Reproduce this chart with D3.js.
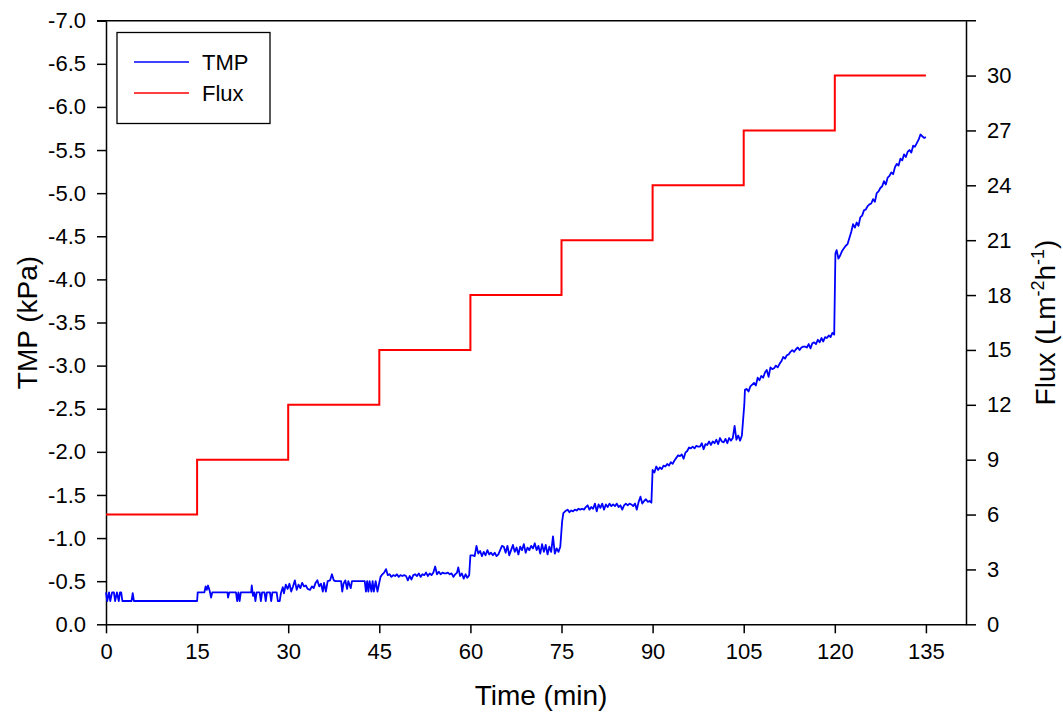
<!DOCTYPE html>
<html>
<head>
<meta charset="utf-8">
<script src="https://cdn.jsdelivr.net/npm/d3@7"></script>
<style>
  html, body { margin: 0; padding: 0; background: #fff; }
  svg { display: block; font-family: "Liberation Sans", Arial, sans-serif; }
</style>
</head>
<body>
<svg id="chart" width="1063" height="713"></svg>
<script>
// Tick values for the three axes
const timeTicks = [0, 15, 30, 45, 60, 75, 90, 105, 120, 135];
const tmpTicks = [0, -0.5, -1, -1.5, -2, -2.5, -3, -3.5, -4, -4.5, -5, -5.5, -6, -6.5, -7];
const fluxTicks = [0, 3, 6, 9, 12, 15, 18, 21, 24, 27, 30];

// Flux set-point steps: start time of each step and its flux (L m-2 h-1)
const fluxStepStart = [0, 15, 30, 45, 60, 75, 90, 105, 120, 135];
const fluxStepValue = [6, 9, 12, 15, 18, 21, 24, 27, 30, 30];

// Transmembrane pressure readings: [time (min), TMP (kPa)]
const tmpReadings = [
  // 6 L m-2 h-1
  [0.0,-0.37],[0.2,-0.27],[0.5,-0.37],[0.7,-0.27],[1.0,-0.37],[1.3,-0.37],[1.5,-0.27],[1.8,-0.37],
  [2.1,-0.27],[2.3,-0.37],[2.5,-0.37],[2.7,-0.27],[4.2,-0.27],[4.4,-0.36],[4.6,-0.27],[15.0,-0.27],
  // 9 L m-2 h-1
  [15.1,-0.37],[16.2,-0.37],[16.4,-0.44],[16.6,-0.40],[16.8,-0.45],[17.1,-0.38],[17.3,-0.31],[17.5,-0.37],
  [20.0,-0.37],[20.1,-0.31],[20.3,-0.37],[21.4,-0.37],[21.6,-0.27],[21.8,-0.37],[22.0,-0.27],[22.2,-0.37],
  [23.9,-0.37],[24.0,-0.45],[24.2,-0.33],[24.4,-0.37],[24.6,-0.27],[24.8,-0.37],[25.3,-0.37],[25.5,-0.27],
  [25.7,-0.37],[26.1,-0.37],[26.3,-0.27],[26.5,-0.37],[27.0,-0.37],[27.2,-0.27],[27.4,-0.37],[28.1,-0.37],
  [28.3,-0.27],[28.6,-0.27],[28.8,-0.36],[29.1,-0.43],[29.3,-0.36],[29.6,-0.46],[29.9,-0.41],
  // 12 L m-2 h-1
  [30.2,-0.47],[30.5,-0.38],[30.8,-0.44],[31.1,-0.51],[31.4,-0.40],[31.7,-0.46],[32.0,-0.42],[32.3,-0.48],
  [32.6,-0.44],[32.9,-0.45],[33.2,-0.41],[33.6,-0.40],[33.9,-0.44],[34.2,-0.42],[34.5,-0.48],[34.8,-0.51],
  [35.1,-0.44],[35.4,-0.47],[35.7,-0.38],[35.9,-0.48],[36.2,-0.38],[36.5,-0.50],[36.9,-0.51],[37.2,-0.58],
  [37.5,-0.51],[37.8,-0.50],[38.4,-0.50],[38.7,-0.50],[38.9,-0.38],[39.1,-0.47],[39.4,-0.51],[39.7,-0.41],
  [39.9,-0.50],[40.3,-0.42],[40.5,-0.50],[41.0,-0.50],[41.5,-0.50],[42.0,-0.50],[42.6,-0.50],[42.8,-0.38],
  [43.0,-0.50],[43.2,-0.38],[43.4,-0.50],[43.7,-0.38],[43.9,-0.50],[44.1,-0.38],[44.4,-0.50],[44.7,-0.38],
  [44.9,-0.45],
  // 15 L m-2 h-1
  [45.2,-0.55],[45.5,-0.58],[45.8,-0.60],[46.1,-0.64],[46.4,-0.57],[46.7,-0.58],[47.0,-0.55],[47.3,-0.57],
  [47.6,-0.56],[47.9,-0.58],[48.2,-0.55],[48.5,-0.57],[48.8,-0.56],[49.1,-0.57],[49.4,-0.56],[49.7,-0.51],
  [50.0,-0.56],[50.3,-0.52],[50.6,-0.57],[50.9,-0.58],[51.2,-0.56],[51.5,-0.59],[51.8,-0.55],[52.1,-0.58],
  [52.4,-0.57],[52.7,-0.60],[53.0,-0.56],[53.3,-0.59],[53.6,-0.57],[53.9,-0.60],[54.2,-0.67],[54.5,-0.58],
  [54.8,-0.61],[55.1,-0.58],[55.4,-0.60],[55.7,-0.59],[56.0,-0.59],[56.3,-0.60],[56.6,-0.58],[56.9,-0.59],
  [57.2,-0.55],[57.5,-0.58],[57.8,-0.60],[58.0,-0.66],[58.3,-0.56],[58.6,-0.59],[58.9,-0.53],[59.2,-0.58],
  [59.5,-0.54],[59.8,-0.57],
  // 18 L m-2 h-1
  [60.0,-0.80],[60.4,-0.80],[60.7,-0.79],[61.0,-0.91],[61.3,-0.82],[61.6,-0.85],[61.9,-0.79],[62.2,-0.84],
  [62.5,-0.80],[62.8,-0.86],[63.1,-0.81],[63.4,-0.83],[63.7,-0.80],[64.0,-0.83],[64.3,-0.79],[64.6,-0.81],
  [64.9,-0.86],[65.2,-0.91],[65.5,-0.90],[65.8,-0.83],[66.1,-0.91],[66.4,-0.80],[66.7,-0.86],[67.0,-0.92],
  [67.3,-0.84],[67.6,-0.89],[67.9,-0.81],[68.2,-0.90],[68.5,-0.86],[68.8,-0.93],[69.1,-0.83],[69.4,-0.89],
  [69.7,-0.86],[70.0,-0.91],[70.3,-0.88],[70.6,-0.94],[70.9,-0.86],[71.2,-0.91],[71.5,-0.82],[71.8,-0.93],
  [72.1,-0.84],[72.4,-0.92],[72.7,-0.81],[73.0,-0.90],[73.3,-0.84],[73.6,-1.02],[73.9,-0.82],[74.2,-0.88],
  [74.5,-0.84],[74.8,-0.90],
  // 21 L m-2 h-1
  [75.1,-1.19],[75.3,-1.29],[75.6,-1.31],[76.0,-1.33],[76.3,-1.30],[76.6,-1.32],[76.9,-1.31],[77.2,-1.33],
  [77.5,-1.32],[77.8,-1.34],[78.1,-1.33],[78.4,-1.34],[78.7,-1.33],[79.0,-1.36],[79.3,-1.38],[79.6,-1.33],
  [79.9,-1.36],[80.2,-1.34],[80.5,-1.40],[80.8,-1.31],[81.1,-1.39],[81.4,-1.35],[81.7,-1.40],[82.0,-1.33],
  [82.3,-1.39],[82.6,-1.36],[82.9,-1.40],[83.2,-1.37],[83.5,-1.39],[83.8,-1.37],[84.1,-1.40],[84.4,-1.36],
  [84.7,-1.38],[85.0,-1.33],[85.3,-1.38],[85.6,-1.40],[85.9,-1.38],[86.2,-1.40],[86.5,-1.39],[86.8,-1.37],
  [87.1,-1.40],[87.4,-1.33],[87.7,-1.42],[88.0,-1.48],[88.3,-1.40],[88.6,-1.43],[88.9,-1.45],[89.2,-1.42],
  [89.5,-1.43],[89.8,-1.41],
  // 24 L m-2 h-1
  [90.0,-1.79],[90.3,-1.76],[90.6,-1.83],[90.9,-1.79],[91.2,-1.82],[91.5,-1.80],[91.8,-1.84],[92.1,-1.83],
  [92.4,-1.86],[92.7,-1.84],[93.0,-1.88],[93.3,-1.86],[93.6,-1.90],[93.9,-1.93],[94.2,-1.96],[94.5,-1.95],
  [94.8,-1.97],[95.1,-1.92],[95.4,-1.99],[95.7,-2.01],[96.0,-2.05],[96.3,-2.04],[96.6,-2.06],[96.9,-2.04],
  [97.2,-2.07],[97.5,-2.06],[97.8,-2.06],[98.1,-2.10],[98.4,-2.03],[98.7,-2.09],[99.0,-2.08],[99.3,-2.12],
  [99.6,-2.08],[99.9,-2.12],[100.2,-2.10],[100.5,-2.14],[100.8,-2.09],[101.1,-2.16],[101.4,-2.12],[101.7,-2.11],
  [102.0,-2.15],[102.3,-2.10],[102.6,-2.16],[102.9,-2.13],[103.2,-2.16],[103.5,-2.30],[103.8,-2.14],[104.1,-2.19],
  [104.4,-2.13],[104.7,-2.19],
  // 27 L m-2 h-1
  [105.1,-2.55],[105.2,-2.72],[105.5,-2.73],[105.8,-2.70],[106.1,-2.76],[106.4,-2.78],[106.7,-2.80],[107.0,-2.77],
  [107.3,-2.86],[107.6,-2.83],[107.9,-2.88],[108.2,-2.86],[108.5,-2.92],[108.8,-2.95],[109.1,-2.87],[109.4,-2.98],
  [109.7,-2.96],[110.0,-2.97],[110.3,-3.00],[110.6,-2.98],[110.9,-3.02],[111.2,-3.05],[111.5,-3.10],[111.8,-3.08],
  [112.1,-3.12],[112.4,-3.13],[112.7,-3.16],[113.0,-3.18],[113.3,-3.16],[113.6,-3.19],[113.9,-3.21],[114.2,-3.18],
  [114.5,-3.21],[114.8,-3.22],[115.1,-3.22],[115.4,-3.21],[115.7,-3.25],[116.0,-3.20],[116.3,-3.26],[116.6,-3.27],
  [116.9,-3.25],[117.2,-3.30],[117.5,-3.27],[117.8,-3.32],[118.1,-3.28],[118.4,-3.33],[118.7,-3.32],[119.0,-3.35],
  [119.3,-3.33],[119.6,-3.38],[119.9,-3.36],
  // 30 L m-2 h-1
  [120.1,-4.30],[120.3,-4.34],[120.6,-4.24],[120.9,-4.28],[121.2,-4.33],[121.5,-4.36],[121.8,-4.39],[122.1,-4.41],
  [122.4,-4.48],[122.7,-4.55],[123.0,-4.64],[123.3,-4.60],[123.6,-4.66],[123.9,-4.62],[124.2,-4.72],[124.5,-4.74],
  [124.8,-4.80],[125.1,-4.81],[125.4,-4.85],[125.7,-4.87],[126.0,-4.88],[126.3,-4.93],[126.6,-4.90],[126.9,-5.00],
  [127.2,-5.02],[127.5,-5.06],[127.8,-5.08],[128.1,-5.14],[128.4,-5.10],[128.7,-5.18],[129.0,-5.20],[129.3,-5.24],
  [129.6,-5.22],[129.9,-5.30],[130.2,-5.34],[130.5,-5.32],[130.8,-5.40],[131.1,-5.38],[131.4,-5.45],[131.7,-5.42],
  [132.0,-5.48],[132.3,-5.50],[132.6,-5.47],[132.9,-5.55],[133.2,-5.54],[133.5,-5.58],[133.8,-5.62],[134.1,-5.68],
  [134.4,-5.66],[134.7,-5.64],[135.0,-5.65]
];

const svg = d3.select("#chart");
const plot = { left: 106, right: 966, top: 20.7, bottom: 624.3 };
const fontSize = 22;
const titleSize = 28;

const x = d3.scaleLinear().domain([0, 141.6]).range([plot.left, plot.right]);
const yTmp = d3.scaleLinear().domain([0, -7]).range([plot.bottom, plot.top]);
const yFlux = d3.scaleLinear().domain([0, 33]).range([plot.bottom, plot.top]);

// One-decimal labels with a plain hyphen for the sign
const fmtTmp = d => d3.format(".1f")(d).replace("\u2212", "-");

// Frame line across the top
svg.append("line")
  .attr("x1", plot.left - 9).attr("x2", plot.right + 10)
  .attr("y1", plot.top).attr("y2", plot.top)
  .attr("stroke", "#000").attr("stroke-width", 1.5);

function styleAxis(g) {
  g.selectAll("path, line").attr("stroke", "#000").attr("stroke-width", 1.5);
  g.selectAll("text").attr("font-size", fontSize).attr("fill", "#000")
    .attr("font-family", "'Liberation Sans', Arial, sans-serif");
}

svg.append("g")
  .attr("transform", `translate(0,${plot.bottom})`)
  .call(d3.axisBottom(x).tickValues(timeTicks).tickFormat(d3.format("d"))
    .tickSize(9).tickSizeOuter(0).tickPadding(10))
  .call(styleAxis);

svg.append("g")
  .attr("transform", `translate(${plot.left},0)`)
  .call(d3.axisLeft(yTmp).tickValues(tmpTicks).tickFormat(fmtTmp)
    .tickSize(9).tickSizeOuter(0).tickPadding(11))
  .call(styleAxis);

svg.append("g")
  .attr("transform", `translate(${plot.right},0)`)
  .call(d3.axisRight(yFlux).tickValues(fluxTicks).tickFormat(d3.format("d"))
    .tickSize(10).tickSizeOuter(0).tickPadding(11))
  .call(styleAxis);

// Flux set-point step line
const fluxPoints = fluxStepStart.map((t, i) => [t, fluxStepValue[i]]);
svg.append("path")
  .datum(fluxPoints)
  .attr("fill", "none")
  .attr("stroke", "#ff0000")
  .attr("stroke-width", 2)
  .attr("d", d3.line().curve(d3.curveStepAfter).x(d => x(d[0])).y(d => yFlux(d[1])));

// TMP trace
svg.append("path")
  .datum(tmpReadings)
  .attr("fill", "none")
  .attr("stroke", "#0000ff")
  .attr("stroke-width", 1.8)
  .attr("stroke-linejoin", "round")
  .attr("d", d3.line().x(d => x(d[0])).y(d => yTmp(d[1])));

// Axis titles
svg.append("text")
  .attr("x", 541).attr("y", 705)
  .attr("text-anchor", "middle").attr("font-size", titleSize)
  .text("Time (min)");

svg.append("text")
  .attr("transform", `translate(37,${(plot.top + plot.bottom) / 2}) rotate(-90)`)
  .attr("text-anchor", "middle").attr("font-size", titleSize)
  .text("TMP (kPa)");

const fluxTitle = svg.append("text")
  .attr("transform", `translate(1055,${(plot.top + plot.bottom) / 2}) rotate(-90)`)
  .attr("text-anchor", "middle").attr("font-size", titleSize);
fluxTitle.append("tspan").text("Flux (Lm");
fluxTitle.append("tspan").attr("font-size", 18).attr("dy", -11).text("-2");
fluxTitle.append("tspan").attr("dy", 11).text("h");
fluxTitle.append("tspan").attr("font-size", 18).attr("dy", -11).text("-1");
fluxTitle.append("tspan").attr("dy", 11).text(")");

// Legend
const legendItems = [
  { name: "TMP", color: "#0000ff" },
  { name: "Flux", color: "#ff0000" }
];
const legend = svg.append("g");
legend.append("rect")
  .attr("x", 117).attr("y", 32.5).attr("width", 153).attr("height", 91)
  .attr("fill", "#fff").attr("stroke", "#000").attr("stroke-width", 1.3);
legendItems.forEach((item, i) => {
  const ly = 62 + i * 31;
  legend.append("line")
    .attr("x1", 134).attr("x2", 189).attr("y1", ly).attr("y2", ly)
    .attr("stroke", item.color).attr("stroke-width", 1.5);
  legend.append("text")
    .attr("x", 202).attr("y", ly + 8)
    .attr("font-size", fontSize)
    .text(item.name);
});
</script>
</body>
</html>
